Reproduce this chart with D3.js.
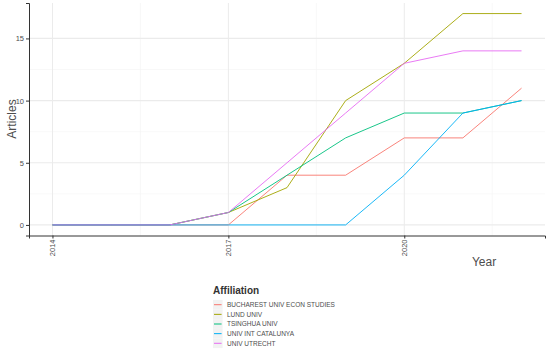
<!DOCTYPE html>
<html><head><meta charset="utf-8">
<script src="https://cdn.jsdelivr.net/npm/d3@7"></script>
<style>body{margin:0;background:#fff}svg{display:block;font-family:"Liberation Sans",Arial,sans-serif}</style>
</head><body>
<svg id="chart" width="550" height="353"></svg>
<script>
const years = [2014, 2015, 2016, 2017, 2018, 2019, 2020, 2021, 2022];
const affiliations = ["BUCHAREST UNIV ECON STUDIES", "LUND UNIV", "TSINGHUA UNIV", "UNIV INT CATALUNYA", "UNIV UTRECHT"];
const bucharest = [0, 0, 0, 0, 4, 4, 7, 7, 11];
const lund      = [0, 0, 0, 1, 3, 10, 13, 17, 17];
const tsinghua  = [0, 0, 0, 1, 4, 7, 9, 9, 10];
const catalunya = [0, 0, 0, 0, 0, 0, 4, 9, 10];
const utrecht   = [0, 0, 0, 1, 5, 9, 13, 14, 14];
const colors = ["#F8766D", "#A3A500", "#00BF7D", "#00B0F6", "#E76BF3"];
const xTicks = [2014, 2017, 2020];
const yTicks = [0, 5, 10, 15];

const seriesValues = [bucharest, lund, tsinghua, catalunya, utrecht];
const svg = d3.select("#chart");
const L = 29, R = 545, T = 3, B = 235.5;
const x = d3.scaleLinear().domain([2013.6, 2022.4]).range([L, R]);
const y = d3.scaleLinear().domain([-0.85, 17.85]).range([B, T]);

// grid
const g = svg.append("g");
[2015.5, 2018.5, 2021.5].forEach(v => g.append("line").attr("x1", x(v)).attr("x2", x(v)).attr("y1", T).attr("y2", B).attr("stroke", "#f4f4f4").attr("stroke-width", 0.6));
[2.5, 7.5, 12.5].forEach(v => g.append("line").attr("y1", y(v)).attr("y2", y(v)).attr("x1", L).attr("x2", R).attr("stroke", "#f4f4f4").attr("stroke-width", 0.6));
xTicks.forEach(v => g.append("line").attr("x1", x(v)).attr("x2", x(v)).attr("y1", T).attr("y2", B).attr("stroke", "#ebebeb").attr("stroke-width", 1));
yTicks.forEach(v => g.append("line").attr("y1", y(v)).attr("y2", y(v)).attr("x1", L).attr("x2", R).attr("stroke", "#ebebeb").attr("stroke-width", 1.2));

// lines
const line = d3.line().x((d, i) => x(years[i])).y(d => y(d));
seriesValues.forEach((vals, k) => {
  svg.append("path").datum(vals).attr("d", line).attr("fill", "none")
    .attr("stroke", colors[k]).attr("stroke-width", 0.9);
});

// axes
const xAxis = svg.append("g").attr("transform", `translate(0,${B})`)
  .call(d3.axisBottom(x).tickValues(xTicks).tickFormat(d3.format("d")).tickSize(3).tickPadding(3));
xAxis.select(".domain").attr("stroke", "#333").attr("stroke-width", 1);
xAxis.selectAll(".tick line").attr("stroke", "#333");
xAxis.selectAll(".tick text").attr("fill", "#4d4d4d").attr("font-size", 7.5)
  .attr("transform", "rotate(-90)").attr("text-anchor", "end").attr("dy", "0.32em").attr("x", -4).attr("y", 0);

const yAxis = svg.append("g").attr("transform", `translate(${L},0)`)
  .call(d3.axisLeft(y).tickValues(yTicks).tickSize(3).tickPadding(2));
yAxis.select(".domain").attr("stroke", "#333").attr("stroke-width", 1);
yAxis.selectAll(".tick line").attr("stroke", "#333");
yAxis.selectAll(".tick text").attr("fill", "#4d4d4d").attr("font-size", 7.5);

svg.append("text").attr("transform", `translate(12,119) rotate(-90)`).attr("text-anchor", "middle")
  .attr("fill", "#4d4d4d").attr("font-size", 12).attr("dy", "0.35em").text("Articles");
svg.append("text").attr("x", 484).attr("y", 266).attr("text-anchor", "middle")
  .attr("fill", "#4d4d4d").attr("font-size", 12).text("Year");

// legend
const lg = svg.append("g");
lg.append("text").attr("x", 213).attr("y", 294).attr("font-size", 10).attr("font-weight", "bold")
  .attr("fill", "#333").text("Affiliation");
affiliations.forEach((a, i) => {
  const cy = 304.7 + i * 9.65;
  lg.append("rect").attr("x", 213).attr("y", cy - 4.8).attr("width", 9.6).attr("height", 9.6).attr("fill", "#f2f2f2");
  lg.append("line").attr("x1", 214).attr("x2", 221.6).attr("y1", cy).attr("y2", cy).attr("stroke", colors[i]).attr("stroke-width", 1);
  lg.append("text").attr("x", 227).attr("y", cy).attr("dy", "0.35em").attr("font-size", 6.5).attr("fill", "#4d4d4d").text(a);
});
</script>
</body></html>
